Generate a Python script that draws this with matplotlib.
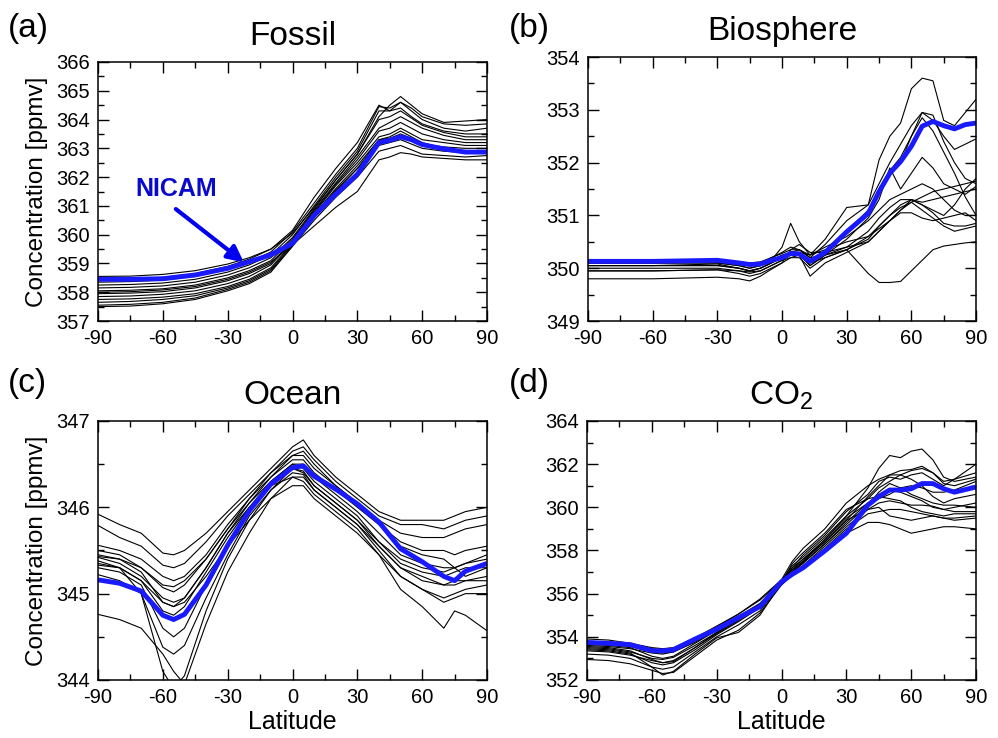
import matplotlib
matplotlib.use('Agg')
import matplotlib.pyplot as plt
from matplotlib.ticker import MultipleLocator

plt.rcParams['font.family'] = ['Liberation Sans', 'DejaVu Sans']
plt.rcParams['mathtext.fontset'] = 'custom'
plt.rcParams['mathtext.rm'] = 'Liberation Sans'
plt.rcParams['mathtext.default'] = 'regular'
plt.rcParams['axes.unicode_minus'] = False

# ---- Fossil tracer: zonal mean concentration vs latitude ----
lat_fossil = [-90, -75, -60, -45, -30, -20, -10, 0, 10, 20, 30, 40, 45, 50, 55, 60, 70, 80, 90]
nicam_fossil = [358.45, 358.45, 358.47, 358.6, 358.83, 359.06, 359.3, 359.7, 360.67, 361.4, 362.1,
                363.2, 363.28, 363.4, 363.3, 363.13, 362.98, 362.87, 362.87]
models_fossil = [
    [358.55, 358.56, 358.62, 358.75, 358.98, 359.2, 359.5, 360.05, 360.95, 361.9, 362.8, 364.1, 364.5, 364.8, 364.5, 364.2, 363.9, 363.95, 364.0],
    [358.35, 358.37, 358.42, 358.55, 358.8, 359.05, 359.4, 360.1, 361.1, 362.1, 363.0, 364.45, 364.4, 364.6, 364.3, 364.0, 363.7, 363.6, 363.7],
    [358.25, 358.27, 358.32, 358.45, 358.7, 358.95, 359.3, 360.0, 361.0, 362.0, 362.9, 364.3, 364.3, 364.4, 364.1, 363.85, 363.6, 363.5, 363.5],
    [358.15, 358.17, 358.22, 358.35, 358.6, 358.85, 359.2, 359.9, 360.9, 361.9, 362.8, 364.0, 364.1, 364.3, 364.05, 363.8, 363.55, 363.4, 363.4],
    [358.05, 358.07, 358.12, 358.25, 358.5, 358.75, 359.1, 359.85, 360.85, 361.8, 362.7, 363.7, 363.9, 364.1, 363.9, 363.7, 363.45, 363.3, 363.3],
    [357.95, 357.97, 358.02, 358.15, 358.4, 358.65, 359.0, 359.8, 360.8, 361.75, 362.6, 363.6, 363.7, 363.9, 363.7, 363.5, 363.3, 363.2, 363.2],
    [357.85, 357.87, 357.93, 358.05, 358.3, 358.55, 358.95, 359.75, 360.75, 361.7, 362.5, 363.4, 363.5, 363.7, 363.5, 363.3, 363.2, 363.1, 363.1],
    [357.75, 357.77, 357.83, 357.95, 358.2, 358.45, 358.85, 359.7, 360.7, 361.6, 362.4, 363.3, 363.35, 363.5, 363.35, 363.15, 363.05, 363.0, 363.0],
    [357.65, 357.68, 357.75, 357.88, 358.15, 358.4, 358.8, 359.65, 360.65, 361.55, 362.3, 363.1, 363.2, 363.3, 363.15, 363.0, 362.9, 362.85, 362.9],
    [357.55, 357.58, 357.65, 357.8, 358.1, 358.35, 358.75, 359.6, 360.5, 361.3, 362.0, 362.9, 363.0, 363.1, 362.95, 362.8, 362.75, 362.7, 362.75],
    [358.0, 358.02, 358.08, 358.2, 358.45, 358.7, 359.05, 359.65, 360.3, 360.95, 361.5, 362.6, 362.7, 362.85, 362.8, 362.7, 362.65, 362.6, 362.6],
    [358.45, 358.47, 358.52, 358.65, 358.9, 359.15, 359.5, 360.15, 361.3, 362.3, 363.2, 364.5, 364.3, 364.6, 364.4, 364.1, 363.85, 363.8, 363.85],
    [357.5, 357.52, 357.6, 357.75, 358.05, 358.3, 358.7, 359.6, 360.6, 361.5, 362.3, 363.3, 363.4, 363.6, 363.4, 363.2, 363.0, 362.9, 362.9],
]

# ---- Biosphere tracer ----
lat_bio = [-90, -60, -30, -20, -15, -10, -5, 0, 4, 8, 13, 20, 30, 40, 45, 50, 55, 60, 65, 70, 75, 80, 85, 90]
nicam_bio = [350.13, 350.13, 350.15, 350.1, 350.07, 350.08, 350.15, 350.2, 350.28, 350.27, 350.13, 350.3,
             350.69, 351.04, 351.45, 351.8, 352.02, 352.31, 352.69, 352.78, 352.7, 352.64, 352.72, 352.75]
models_bio = [
    [350.15, 350.15, 350.15, 350.1, 350.05, 350.1, 350.2, 350.3, 350.4, 350.35, 350.2, 350.45, 350.9, 351.2, 352.05, 352.5, 352.75, 353.4, 353.6, 353.55, 352.8, 352.7, 352.95, 353.2],
    [350.1, 350.1, 350.1, 350.05, 350.0, 350.05, 350.15, 350.25, 350.3, 350.3, 350.25, 350.55, 351.15, 351.2, 351.6, 352.0, 352.35, 352.7, 352.95, 352.9, 352.4, 352.0, 351.7, 351.6],
    [350.1, 350.1, 350.12, 350.08, 350.05, 350.07, 350.15, 350.22, 350.3, 350.3, 350.15, 350.3, 350.7, 351.1, 351.5, 351.85, 352.1, 352.5, 352.95, 352.8, 352.5, 352.25, 352.35, 352.45],
    [350.12, 350.12, 350.13, 350.08, 350.05, 350.05, 350.12, 350.2, 350.3, 350.25, 350.1, 350.3, 350.65, 351.0, 351.4, 351.75, 352.0, 352.5, 352.85, 352.6, 352.2, 351.8, 351.35, 351.0],
    [350.05, 350.05, 350.08, 350.0, 349.95, 350.0, 350.1, 350.2, 350.28, 350.3, 350.05, 350.25, 350.55, 350.95, 351.3, 351.9, 351.5, 351.8, 352.1, 351.9, 351.6, 351.5, 351.4, 351.55],
    [350.05, 350.05, 350.05, 350.0, 349.95, 350.0, 350.1, 350.2, 350.3, 350.35, 350.2, 350.25, 350.4, 350.7, 350.95, 351.15, 351.3, 351.3, 351.2, 351.1, 351.0, 351.2, 351.5, 351.7],
    [350.0, 350.0, 350.0, 349.95, 349.9, 349.95, 350.05, 350.15, 350.25, 350.3, 350.1, 350.2, 350.35, 350.55, 350.8, 351.0, 351.2, 351.3, 351.25, 351.3, 351.35, 351.4, 351.45, 351.5],
    [349.95, 349.95, 349.97, 349.9, 349.85, 349.9, 350.0, 350.1, 350.35, 350.45, 350.3, 350.3, 350.4, 350.5, 350.7, 350.9, 351.05, 351.05, 350.95, 350.9, 350.95, 351.0, 351.05, 350.9],
    [350.1, 350.1, 350.1, 350.05, 350.0, 350.05, 350.15, 350.4, 350.85, 350.5, 350.25, 350.35, 350.5, 350.6, 350.75, 350.9, 351.1, 351.3, 351.2, 351.05, 350.85, 350.8, 350.8, 350.85],
    [350.05, 350.05, 350.05, 350.0, 349.95, 350.0, 350.1, 350.2, 350.3, 350.25, 350.05, 350.25, 350.35, 349.9, 349.73, 349.73, 349.75, 349.95, 350.15, 350.35, 350.42, 350.45, 350.48, 350.5],
    [349.8, 349.8, 349.83, 349.8, 349.76, 349.85, 349.98, 350.1, 350.2, 350.25, 349.85, 350.1, 350.3, 350.5, 350.7, 350.9, 351.1, 351.25, 351.1, 350.95, 350.8, 350.7, 350.75, 350.8],
    [350.15, 350.15, 350.15, 350.12, 350.1, 350.12, 350.2, 350.28, 350.35, 350.35, 350.25, 350.4, 350.6, 350.9, 351.1, 351.3, 351.4, 351.5, 351.6, 351.5, 351.3, 351.1, 351.0, 351.0],
    [349.95, 349.95, 349.97, 349.95, 349.93, 349.95, 350.05, 350.15, 350.2, 350.2, 350.0, 350.2, 350.35, 350.6, 350.8, 351.0, 351.15, 351.25, 351.35, 351.45, 351.5, 351.55, 351.6, 351.65],
]

# ---- Ocean tracer ----
lat_ocean = [-90, -80, -70, -60, -55, -50, -40, -30, -20, -10, 0, 5, 10, 20, 30, 40, 50, 60, 70, 75, 80, 90]
nicam_ocean = [345.16, 345.12, 345.03, 344.75, 344.7, 344.76, 345.1, 345.56, 345.96, 346.27, 346.46, 346.48,
               346.36, 346.21, 346.04, 345.83, 345.52, 345.37, 345.2, 345.15, 345.26, 345.35]
models_ocean = [
    [345.92, 345.8, 345.7, 345.47, 345.45, 345.5, 345.7, 345.95, 346.2, 346.45, 346.7, 346.78, 346.6, 346.35, 346.15, 345.95, 345.85, 345.85, 345.85, 345.9, 345.95, 346.0],
    [345.79, 345.65, 345.55, 345.33, 345.3, 345.35, 345.6, 345.9, 346.15, 346.4, 346.65, 346.7, 346.55, 346.3, 346.1, 345.9, 345.8, 345.8, 345.75, 345.8, 345.85, 345.9],
    [345.56, 345.5, 345.4, 345.2, 345.15, 345.2, 345.45, 345.8, 346.1, 346.35, 346.6, 346.6, 346.45, 346.25, 346.05, 345.85, 345.7, 345.65, 345.65, 345.7, 345.75, 345.8],
    [345.5, 345.45, 345.3, 345.07, 345.02, 345.1, 345.4, 345.75, 346.05, 346.35, 346.55, 346.55, 346.4, 346.2, 346.0, 345.8, 345.6, 345.5, 345.5, 345.45, 345.5, 345.55],
    [345.43, 345.4, 345.25, 344.9, 344.85, 344.95, 345.3, 345.7, 346.05, 346.3, 346.5, 346.5, 346.35, 346.15, 345.95, 345.7, 345.45, 345.35, 345.3, 345.3, 345.35, 345.4],
    [345.33, 345.3, 345.15, 344.8, 344.75, 344.85, 345.25, 345.65, 346.0, 346.3, 346.5, 346.45, 346.3, 346.1, 345.9, 345.6, 345.35, 345.25, 345.2, 345.25, 345.3, 345.3],
    [345.3, 345.25, 345.1, 344.6, 344.5, 344.6, 345.1, 345.55, 345.95, 346.25, 346.45, 346.4, 346.25, 346.05, 345.85, 345.55, 345.3, 345.15, 345.1, 345.15, 345.15, 345.15],
    [345.22, 345.15, 345.0, 344.38, 344.3, 344.4, 344.95, 345.45, 345.9, 346.2, 346.4, 346.38, 346.2, 346.0, 345.8, 345.5, 345.2, 345.05, 344.95, 345.0, 345.05, 345.1],
    [345.38, 345.3, 345.0, 344.1, 343.9, 344.05, 344.8, 345.4, 345.85, 346.2, 346.45, 346.42, 346.25, 346.05, 345.85, 345.6, 345.4, 345.3, 345.25, 345.3, 345.35, 345.45],
    [344.76, 344.7, 344.6, 344.3, 344.1, 343.95, 344.65, 345.25, 345.7, 346.1, 346.35, 346.35, 346.2, 346.0, 345.8, 345.55, 345.3, 345.2, 345.1, 345.1, 345.15, 345.2],
    [345.42, 345.35, 345.2, 344.95, 344.9, 344.95, 345.3, 345.7, 346.0, 346.25, 346.35, 346.3, 346.15, 345.95, 345.75, 345.45, 345.05, 344.85, 344.6, 344.8, 344.75, 344.57],
    [345.35, 345.3, 345.15, 344.9, 344.85, 344.9, 345.2, 345.55, 345.85, 346.1, 346.25, 346.25, 346.1, 345.9, 345.7, 345.45, 345.2, 345.05, 344.9, 344.95, 345.0, 345.0],
    [345.45, 345.4, 345.3, 345.1, 345.08, 345.15, 345.4, 345.75, 346.1, 346.4, 346.6, 346.65, 346.5, 346.25, 346.05, 345.8, 345.55, 345.45, 345.4, 345.3, 345.2, 345.3],
]

# ---- Total CO2 ----
lat_co2 = [-90, -80, -70, -60, -55, -50, -40, -30, -20, -10, 0, 5, 10, 20, 30, 40, 45, 50, 55, 60, 65, 70, 75, 80, 90]
nicam_co2 = [353.74, 353.7, 353.64, 353.36, 353.35, 353.4, 353.9, 354.35, 354.88, 355.4, 356.55, 356.9, 357.2,
             357.98, 358.8, 360.1, 360.5, 360.8, 360.8, 360.86, 361.1, 361.1, 360.86, 360.7, 360.94]
models_co2 = [
    [353.9, 353.85, 353.7, 353.5, 353.45, 353.5, 353.95, 354.5, 355.05, 355.7, 356.6, 357.1, 357.6, 358.5, 359.6, 360.9, 361.8, 362.4, 362.3, 362.6, 362.7, 362.2, 361.4, 361.2, 361.4],
    [353.75, 353.7, 353.6, 353.4, 353.35, 353.4, 353.85, 354.4, 354.95, 355.55, 356.6, 357.0, 357.5, 358.4, 359.4, 360.5, 361.0, 361.5, 361.7, 361.75, 361.9, 361.6, 361.2, 361.3, 362.0],
    [353.6, 353.55, 353.45, 353.25, 353.2, 353.3, 353.75, 354.3, 354.9, 355.5, 356.55, 357.2, 357.8, 358.7, 359.8, 360.6, 361.2, 361.4, 361.3, 361.5, 361.6, 361.3, 361.0, 361.3, 361.6],
    [353.5, 353.45, 353.3, 353.0, 352.95, 353.05, 353.6, 354.2, 354.8, 355.45, 356.5, 357.0, 357.4, 358.3, 359.3, 360.2, 360.6, 360.8, 360.7, 360.5, 360.3, 360.0, 359.9, 360.0, 360.2],
    [353.4, 353.35, 353.2, 352.8, 352.7, 352.8, 353.4, 354.1, 354.7, 355.35, 356.45, 356.95, 357.3, 358.2, 359.1, 359.9, 360.2, 360.3, 360.2, 360.1, 360.1, 360.05, 359.9, 359.8, 359.8],
    [353.2, 353.15, 353.0, 352.6, 352.5, 352.6, 353.3, 354.0, 354.55, 355.2, 356.45, 356.9, 357.25, 358.1, 359.0, 359.7, 359.8, 359.9, 359.9, 359.8, 359.7, 359.6, 359.5, 359.4, 359.5],
    [352.95, 352.9, 352.75, 352.45, 352.3, 352.35, 353.1, 353.85, 354.3, 355.1, 356.4, 356.85, 357.2, 358.0, 358.8, 359.3, 359.3, 359.2, 359.0, 358.8, 358.9, 359.0, 359.1, 359.1, 359.0],
    [353.65, 353.6, 353.5, 353.1, 353.0, 353.1, 353.7, 354.3, 354.9, 355.5, 356.6, 357.3, 357.7, 358.6, 359.6, 360.4, 360.9, 361.2, 361.5, 361.7, 361.8, 361.6, 361.1, 361.0, 361.3],
    [353.55, 353.5, 353.35, 352.95, 352.8, 352.9, 353.5, 354.15, 354.75, 355.45, 356.5, 357.0, 357.45, 358.3, 359.2, 360.1, 360.7, 361.1, 360.9, 360.6, 360.4, 360.2, 360.1, 360.1, 360.0],
    [353.45, 353.4, 353.25, 352.6, 352.23, 352.4, 353.2, 353.95, 354.2, 355.0, 356.5, 357.4, 357.9, 358.8, 359.9, 360.4, 360.5, 360.4, 360.3, 360.0, 359.8, 359.7, 359.6, 359.7, 359.7],
    [353.8, 353.75, 353.65, 353.45, 353.4, 353.45, 353.9, 354.45, 355.05, 355.75, 356.65, 357.5, 358.1, 359.0, 360.2, 361.0, 361.3, 361.5, 361.5, 361.3, 361.0, 360.5, 360.2, 360.4, 360.6],
    [353.35, 353.3, 353.15, 352.9, 352.8, 352.85, 353.5, 354.2, 354.8, 355.45, 356.55, 357.1, 357.5, 358.5, 359.5, 360.2, 360.4, 360.6, 360.9, 361.0, 360.9, 360.7, 360.7, 360.8, 361.2],
    [353.7, 353.65, 353.55, 353.3, 353.25, 353.3, 353.8, 354.35, 354.85, 355.45, 356.5, 357.2, 357.6, 358.4, 359.4, 359.9, 360.0, 359.6, 359.5, 359.4, 359.5, 359.6, 359.5, 359.5, 359.6],
]

fig = plt.figure(figsize=(9.98, 7.38), dpi=100)


def draw_panel(rect, lat, models, nicam, ylim, ystep, title, tag, tag_pos):
    ax = fig.add_axes(rect)
    # individual transport models in thin black, NICAM on top in thick blue
    for m in models:
        ax.plot(lat, m, color='black', lw=0.8)
    ax.plot(lat, nicam, color='#1a1aff', lw=3.5, solid_capstyle='butt')

    ax.set_xlim(-90, 90)
    ax.set_ylim(*ylim)
    ax.xaxis.set_major_locator(MultipleLocator(30))
    ax.xaxis.set_minor_locator(MultipleLocator(15))
    ax.yaxis.set_major_locator(MultipleLocator(ystep))
    ax.yaxis.set_minor_locator(MultipleLocator(ystep / 2))
    ax.tick_params(which='both', direction='in', top=True, right=True,
                   labelsize=14.5, width=1, pad=6)
    ax.tick_params(which='major', length=8)
    ax.tick_params(which='minor', length=4)
    for s in ax.spines.values():
        s.set_linewidth(1.1)

    ax.set_title(title, fontsize=24, pad=12)
    fig.text(tag_pos[0], tag_pos[1], tag, fontsize=24, ha='left', va='center')
    return ax


ax_a = draw_panel([0.0982, 0.565, 0.3898, 0.351], lat_fossil, models_fossil, nicam_fossil,
                  (357, 366), 1, 'Fossil', '(a)', (0.008, 0.962))
ax_b = draw_panel([0.5892, 0.565, 0.3888, 0.3577], lat_bio, models_bio, nicam_bio,
                  (349, 354), 1, 'Biosphere', '(b)', (0.51, 0.962))
ax_c = draw_panel([0.0982, 0.0786, 0.3898, 0.351], lat_ocean, models_ocean, nicam_ocean,
                  (344, 347), 1, 'Ocean', '(c)', (0.008, 0.48))
ax_d = draw_panel([0.5882, 0.0786, 0.3898, 0.351], lat_co2, models_co2, nicam_co2,
                  (352, 364), 2, 'CO$_2$', '(d)', (0.51, 0.48))

for ax in (ax_a, ax_c):
    ax.set_ylabel('Concentration [ppmv]', fontsize=17.5, labelpad=6)
for ax in (ax_c, ax_d):
    ax.set_xlabel('Latitude', fontsize=18, labelpad=2)

# label pointing at the NICAM curve
ax_a.annotate('', xy=(-21.5, 358.98), xytext=(-55, 360.95),
              arrowprops=dict(arrowstyle='-|>', color='#0000ee', lw=3, mutation_scale=24))
ax_a.text(-54, 361.58, 'NICAM', color='#0a0acc', fontsize=18, fontweight='bold',
          ha='center', va='center')

fig.savefig('out.png', dpi=100)
